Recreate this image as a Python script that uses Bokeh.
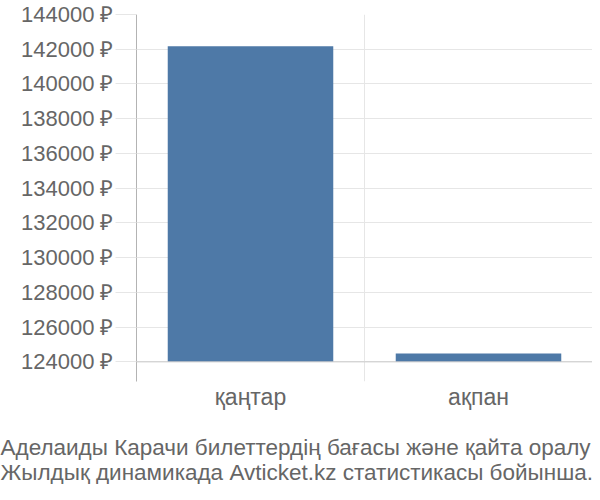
from bokeh.plotting import figure
from bokeh.models import Range1d, FixedTicker, PrintfTickFormatter, Span, Title
from bokeh.layouts import column
from bokeh.embed import file_html
from bokeh.resources import INLINE

categories = ["қаңтар", "ақпан"]
prices = [142170, 124480]
y_ticks = [124000, 126000, 128000, 130000, 132000, 134000, 136000, 138000, 140000, 142000, 144000]
caption_lines = [
    "Аделаиды Карачи билеттердің бағасы және қайта оралу",
    "Жылдық динамикада Avticket.kz статистикасы бойынша.",
]

FONT = "Liberation Sans"
TXT = "#666666"
GRID = "#e6e6e6"
W = 592
H_CHART = 412
H_CAP = 72
LEFT = 136

xs = [i + 0.5 for i in range(len(categories))]
base = y_ticks[0]

p = figure(width=W, height=H_CHART, output_backend="svg", toolbar_location=None,
           x_range=Range1d(0, len(categories)), y_range=Range1d(122870, y_ticks[-1]),
           min_border_left=LEFT, min_border_right=0, min_border_top=14, min_border_bottom=30)
p.outline_line_color = None
p.background_fill_color = "white"
p.border_fill_color = "white"

p.vbar(x=xs, top=prices, bottom=base, width=0.726, color="#4e79a7", line_color=None)

# y axis
p.yaxis.ticker = FixedTicker(ticks=y_ticks)
p.yaxis.formatter = PrintfTickFormatter(format="%d ₽")
p.yaxis.major_label_text_font = FONT
p.yaxis.major_label_text_font_size = "22px"
p.yaxis.major_label_text_color = TXT
p.yaxis.axis_line_color = "#b3b3b3"
p.yaxis.major_tick_line_color = GRID
p.yaxis.major_tick_out = 21
p.yaxis.major_tick_in = 0
p.yaxis.minor_tick_line_color = None
p.yaxis.major_label_standoff = 2

# x axis
p.xaxis.ticker = FixedTicker(ticks=xs)
p.xaxis.major_label_overrides = {x: c for x, c in zip(xs, categories)}
p.xaxis.major_label_text_font = FONT
p.xaxis.major_label_text_font_size = "23px"
p.xaxis.major_label_text_color = TXT
p.xaxis.axis_line_color = None
p.xaxis.major_tick_line_color = None
p.xaxis.minor_tick_line_color = None
p.xaxis.major_tick_out = 0
p.xaxis.major_label_standoff = 2

p.xgrid.ticker = FixedTicker(ticks=list(range(len(categories) + 1)))
p.xgrid.grid_line_color = GRID
p.ygrid.grid_line_color = GRID

p.add_layout(Span(location=base, dimension="width", line_color="#cccccc", line_width=1))

# caption strip below the chart
cap = figure(width=W, height=H_CAP, output_backend="svg", toolbar_location=None,
             x_axis_location=None, y_axis_location=None,
             min_border_left=LEFT, min_border_right=0, min_border_top=0, min_border_bottom=0)
cap.outline_line_color = None
cap.grid.visible = False
cap.background_fill_color = "white"
cap.border_fill_color = "white"
cap.add_layout(Title(text="\n".join(caption_lines), align="left", offset=-LEFT,
                     text_font=FONT, text_font_size="22.5px", text_font_style="normal",
                     text_color=TXT, standoff=0), "below")

layout = column(p, cap, spacing=0)
open("out.html", "w").write(file_html(layout, INLINE))
